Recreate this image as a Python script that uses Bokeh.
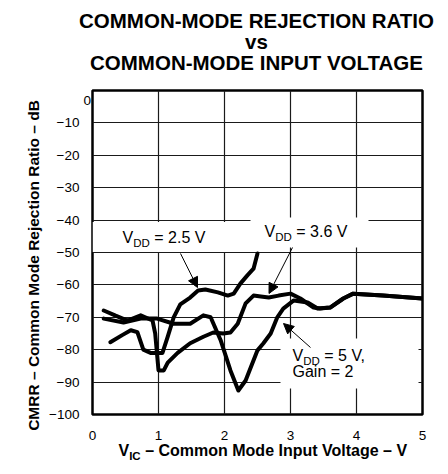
import math
from bokeh.plotting import figure
from bokeh.models import Label, BoxAnnotation, Arrow, NormalHead, Range1d, FixedTicker
from bokeh.embed import file_html
from bokeh.resources import INLINE

# ---------------- data ----------------
vdd25_v = [0.27, 0.45, 0.58, 0.68, 0.77, 0.88, 1.06, 1.14, 1.23, 1.33, 1.48, 1.60,
           1.71, 1.90, 2.05, 2.14, 2.24, 2.35, 2.44, 2.50]
vdd25_db = [-77.7, -75.5, -74.0, -74.6, -80.0, -81.0, -81.0, -76.0, -70.0, -66.0, -63.9, -61.7,
            -61.4, -62.3, -63.3, -62.7, -59.6, -57.0, -55.0, -50.3]

vdd36_v = [0.17, 0.35, 0.53, 0.73, 0.91, 0.95, 1.00, 1.08, 1.14, 1.29, 1.48, 1.68, 1.83,
           1.98, 2.09, 2.20, 2.32, 2.44, 2.55, 2.67, 2.82, 3.00, 3.15, 3.35, 3.45, 3.60,
           3.80, 3.95, 4.40, 5.00]
vdd36_db = [-67.9, -69.5, -71.0, -69.4, -71.0, -75.0, -86.4, -86.4, -84.0, -81.0, -78.0, -76.0, -74.7,
            -75.0, -74.7, -72.0, -65.7, -63.3, -63.6, -63.9, -63.3, -62.7, -64.2, -67.0, -67.3, -67.0,
            -64.2, -62.7, -63.3, -64.2]

vdd5_v = [0.17, 0.47, 0.73, 0.98, 1.23, 1.48, 1.68, 1.79, 1.94, 2.09, 2.21, 2.32, 2.50,
          2.59, 2.70, 2.80, 2.89, 3.05, 3.26, 3.41, 3.60, 3.80, 3.95, 4.40, 5.00]
vdd5_db = [-70.4, -71.6, -70.4, -70.4, -72.0, -72.0, -69.4, -70.0, -77.0, -86.4, -92.6, -89.5, -80.2,
           -78.0, -75.0, -70.0, -67.3, -64.8, -65.4, -67.3, -67.0, -64.2, -62.7, -63.3, -64.2]

x_ticks = [0, 1, 2, 3, 4, 5]
x_tick_labels = ["0", "1", "2", "3", "4", "5"]
y_ticks = [0, -10, -20, -30, -40, -50, -60, -70, -80, -90, -100]
y_tick_labels = ["0", "\u221210", "\u221220", "\u221230", "\u221240", "\u221250",
                 "\u221260", "\u221270", "\u221280", "\u221290", "\u2212100"]

title_lines = ["COMMON-MODE REJECTION RATIO", "vs", "COMMON-MODE INPUT VOLTAGE"]
y_label = "CMRR \u2013 Common Mode Rejection Ratio \u2013 dB"
x_label_parts = [("V", False), ("IC", True), (" \u2013 Common Mode Input Voltage \u2013 V", False)]
lab25 = [("V", False), ("DD", True), (" = 2.5 V", False)]
lab36 = [("V", False), ("DD", True), (" = 3.6 V", False)]
lab5a = [("V", False), ("DD", True), (" = 5 V,", False)]
lab5b = [("Gain = 2", False)]

# ---------------- layout ----------------
W, H = 448, 474
FL, FR, FT, FB = 92, 422, 90, 414      # frame edges in page pixels
XMIN, XMAX, YMIN, YMAX = 0, 5, -100, 0
FONT = "Liberation Sans"
CAP = 0.358   # half of the cap height, in em


def dx(px):
    return XMIN + (px - FL) / (FR - FL) * (XMAX - XMIN)


def dy(py):
    return YMAX - (py - FT) / (FB - FT) * (YMAX - YMIN)


p = figure(width=W, height=H, x_range=Range1d(XMIN, XMAX), y_range=Range1d(YMIN, YMAX),
           output_backend="svg", toolbar_location=None,
           min_border_left=FL, min_border_right=W - FR,
           min_border_top=FT, min_border_bottom=H - FB)
p.background_fill_color = "white"
p.border_fill_color = "white"
p.outline_line_color = "black"
p.outline_line_width = 2.5

p.xaxis.ticker = FixedTicker(ticks=x_ticks)
p.yaxis.ticker = FixedTicker(ticks=y_ticks)
p.xaxis.major_label_overrides = {t: l for t, l in zip(x_ticks, x_tick_labels)}
yover = {t: l for t, l in zip(y_ticks, y_tick_labels)}
yover[y_ticks[0]] = ""          # the reference draws its "0" a little lower; drawn below
p.yaxis.major_label_overrides = yover
for ax in (p.xaxis, p.yaxis):
    ax.axis_line_color = None
    ax.major_tick_line_color = None
    ax.minor_tick_line_color = None
    ax.major_label_text_font = FONT
    ax.major_label_text_font_size = "13.5px"
    ax.major_label_text_color = "black"
p.xaxis.major_label_standoff = 10
p.yaxis.major_label_standoff = 7

p.xgrid.ticker = FixedTicker(ticks=x_ticks)
p.ygrid.ticker = FixedTicker(ticks=y_ticks)
for g in (p.xgrid, p.ygrid):
    g.grid_line_color = "#1a1a1a"
    g.grid_line_width = 1.2
    g.level = "image"

# white label backgrounds that interrupt the grid
for (l, r, t, b) in [(92, 250, 221.5, 251.5), (250, 368, 217, 247), (280, 418, 338, 388)]:
    p.add_layout(BoxAnnotation(left=dx(l), right=dx(r), top=dy(t), bottom=dy(b),
                               fill_color="white", fill_alpha=1.0, line_color=None,
                               level="underlay"))

for xs, ys in [(vdd25_v, vdd25_db), (vdd36_v, vdd36_db), (vdd5_v, vdd5_db)]:
    p.line(xs, ys, line_width=4, line_color="black", line_join="round", line_cap="round")

# arrows
for (x0, y0, x1, y1) in [(180, 253, 197, 287), (292, 247, 268.5, 293), (310, 347, 283, 323)]:
    p.add_layout(Arrow(end=NormalHead(size=10, fill_color="black", line_color="black", line_width=1),
                       x_start=dx(x0), y_start=dy(y0), x_end=dx(x1), y_end=dy(y1),
                       line_color="black", line_width=1))

REG = {' ': 278, '=': 584, '.': 278, ',': 278, 'V': 667, 'D': 722, 'G': 778, 'a': 556,
       'i': 222, 'n': 556}
for c in "0123456789":
    REG[c] = 556
BOLD = {'C': 722, 'M': 833, 'R': 722, ' ': 278, '\u2013': 556, 'o': 611, 'm': 889, 'n': 611,
        'd': 611, 'e': 556, 'j': 278, 'c': 556, 't': 333, 'i': 278, 'a': 556, 'B': 722,
        'I': 278, 'p': 611, 'u': 611, 'V': 667, 'l': 278, 'g': 611, 'O': 778, 'N': 722,
        '-': 333, 'D': 722, 'E': 667, 'J': 556, 'T': 611, 'A': 722, 'P': 667, 'U': 722,
        'L': 611, 'G': 778, 'v': 556, 's': 556}


def tw(s, size, bold):
    m = BOLD if bold else REG
    return sum(m.get(c, 556) for c in s) * size / 1000.0


def rich(parts, px, base, size, bold=False, sub_scale=0.72, sub_drop=3.5, places=None):
    """Text with subscripts; base is the baseline of the main text (page px)."""
    x = px
    for i, (t, sub) in enumerate(parts):
        fs = size * (sub_scale if sub else 1.0)
        stripped = t.lstrip(" ")
        x += tw(t[:len(t) - len(stripped)], fs, bold)
        ymid = base + (sub_drop if sub else 0) - CAP * fs
        place = "center" if places is None else places[i]
        p.add_layout(Label(x=dx(x), y=dy(ymid), text=stripped, text_font=FONT,
                           text_font_size=f"{fs:.1f}px",
                           text_font_style="bold" if bold else "normal",
                           text_align="left", text_baseline="middle", text_color="black"),
                     place)
        x += tw(stripped, fs, bold)


def simple(text, px, ymid, size, bold=False, align="left", angle=0.0, place="center"):
    p.add_layout(Label(x=dx(px), y=dy(ymid), text=text, text_font=FONT,
                       text_font_size=f"{size}px", text_font_style="bold" if bold else "normal",
                       text_align=align, text_baseline="middle", angle=angle, text_color="black"),
                 place)


# title (labels outside the frame live in side panels so they are not clipped)
TS = 20.5
for line, base in zip(title_lines, [27, 48, 69]):
    simple(line, 256, base - CAP * TS, TS, bold=True, align="center", place="above")

# axis labels
simple(y_label, 33, 265, 15.5, bold=True, align="center", angle=math.pi / 2, place="left")
rich(x_label_parts, 118, 456, 16, bold=True, places=["left", "left", "below"])

# top "0" of the y axis, set slightly lower as in the reference
simple(y_tick_labels[0], 90.5, 100, 13.5, align="right", place="right")

# curve labels
rich(lab25, 122, 243, 16)
rich(lab36, 264, 237, 16)
rich(lab5a, 292, 361, 16)
rich(lab5b, 292, 377, 16)

open("out.html", "w").write(file_html(p, INLINE))
